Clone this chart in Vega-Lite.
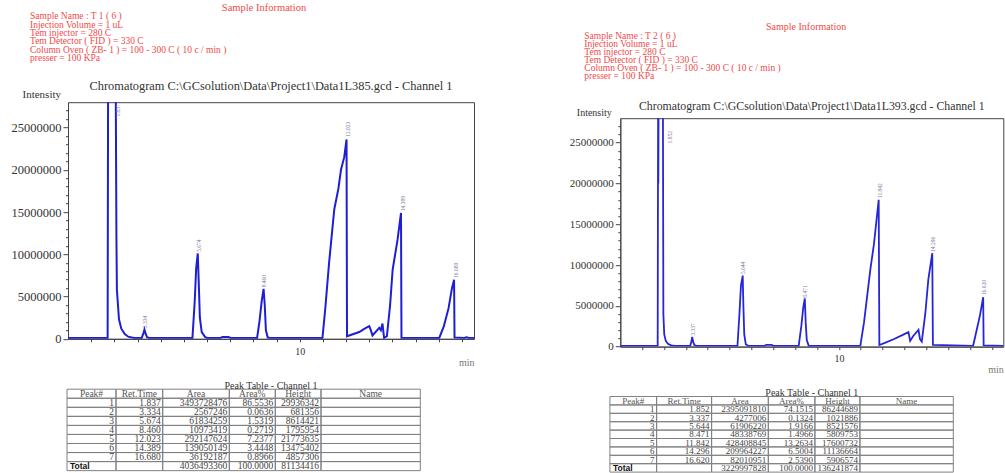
{
  "$schema": "https://vega.github.io/schema/vega-lite/v6.json",
  "autosize": {"type": "pad"},
  "padding": {"left": 10, "top": 3, "right": 0, "bottom": 0},
  "background": "white",
  "config": {
    "font": "Liberation Serif",
    "view": {"stroke": null},
    "axis": {"grid": false, "domainColor": "#444", "tickColor": "#444", "labelColor": "#333", "titleColor": "#333", "labelFont": "Liberation Serif", "titleFont": "Liberation Serif", "titleFontWeight": "normal"},
    "title": {"font": "Liberation Serif", "fontWeight": "normal", "color": "#333"},
    "text": {"font": "Liberation Serif"}
  },
  "datasets": {
    "colsL": [
      {"key": "pk", "x0": -1, "x1": 48, "xm": 23.5},
      {"key": "rt", "x0": 48, "x1": 94.7, "xm": 71.35},
      {"key": "area", "x0": 94.7, "x1": 161.3, "xm": 128},
      {"key": "pct", "x0": 161.3, "x1": 207.3, "xm": 184.3},
      {"key": "ht", "x0": 207.3, "x1": 253, "xm": 230.15},
      {"key": "nm", "x0": 253, "x1": 352.3, "xm": 302.65}
    ],
    "colsR": [
      {"key": "pk", "x0": -10.4, "x1": 36.3, "xm": 12.95},
      {"key": "rt", "x0": 36.3, "x1": 91.3, "xm": 63.8},
      {"key": "area", "x0": 91.3, "x1": 148, "xm": 119.65},
      {"key": "pct", "x0": 148, "x1": 194.6, "xm": 171.3},
      {"key": "ht", "x0": 194.6, "x1": 239.6, "xm": 217.1},
      {"key": "nm", "x0": 239.6, "x1": 333, "xm": 286.3}
    ]
  },
  "bounds": "full",
  "spacing": 56.3,
  "hconcat": [
    {
      "bounds": "flush",
      "center": true,
      "spacing": 40.2,
      "vconcat": [
        {
          "width": 482, "height": 50,
          "title": {"text": "Sample Information", "fontSize": 10.5, "color": "#f04a4a", "anchor": "middle", "frame": "group", "baseline": "middle", "offset": -7.8, "dx": -7},
          "data": {"values": [
            {"i": 1, "s": "Sample Name : T 1 ( 6 )"},
            {"i": 2, "s": "Injection Volume = 1 uL"},
            {"i": 3, "s": "Tem injector = 280 C"},
            {"i": 4, "s": "Tem Detector ( FID ) = 330 C"},
            {"i": 5, "s": "Column Oven ( ZB- 1 )  = 100 - 300 C ( 10 c / min )"},
            {"i": 6, "s": "presser = 100 KPa"}
          ]},
          "mark": {"type": "text", "align": "left", "baseline": "middle", "fontSize": 9.5, "color": "#f04a4a"},
          "encoding": {
            "y": {"field": "i", "type": "ordinal", "scale": {"type": "point", "padding": 0.5}, "axis": null},
            "x": {"datum": 0, "type": "quantitative", "scale": {"domain": [0, 1]}, "axis": null},
            "text": {"field": "s"}
          }
        },
        {
          "width": 406, "height": 236.6,
          "view": {"stroke": "#444", "strokeWidth": 1},
          "title": {"text": "Chromatogram C:\\GCsolution\\Data\\Project1\\Data1L385.gcd - Channel 1", "fontSize": 12.4, "anchor": "middle", "frame": "group", "baseline": "middle", "offset": -10.5, "color": "#333"},
          "resolve": {"axis": {"x": "independent", "y": "independent"}},
          "layer": [
            {
              "data": {"values": [
                {"t": 0, "v": 100000}, {"t": 1.71, "v": 100000}, {"t": 1.73, "v": 29900000}, {"t": 2.06, "v": 29900000}, {"t": 2.09, "v": 12000000}, {"t": 2.11, "v": 5800000}, {"t": 2.2, "v": 2300000}, {"t": 2.3, "v": 1200000}, {"t": 2.45, "v": 550000}, {"t": 2.6, "v": 250000}, {"t": 2.85, "v": 100000},
                {"t": 3.18, "v": 100000}, {"t": 3.26, "v": 700000}, {"t": 3.3, "v": 1100000}, {"t": 3.35, "v": 600000}, {"t": 3.41, "v": 200000}, {"t": 3.5, "v": 100000},
                {"t": 5.37, "v": 100000}, {"t": 5.47, "v": 4500000}, {"t": 5.53, "v": 8300000}, {"t": 5.6, "v": 10100000}, {"t": 5.65, "v": 6000000}, {"t": 5.69, "v": 2500000}, {"t": 5.77, "v": 800000}, {"t": 5.92, "v": 200000}, {"t": 6.02, "v": 100000},
                {"t": 6.58, "v": 100000}, {"t": 6.67, "v": 220000}, {"t": 6.92, "v": 220000}, {"t": 7.02, "v": 100000},
                {"t": 8.16, "v": 100000}, {"t": 8.26, "v": 2000000}, {"t": 8.36, "v": 4500000}, {"t": 8.44, "v": 5900000}, {"t": 8.49, "v": 4000000}, {"t": 8.54, "v": 1000000}, {"t": 8.62, "v": 150000}, {"t": 8.72, "v": 100000},
                {"t": 10.98, "v": 100000}, {"t": 11.1, "v": 3500000}, {"t": 11.27, "v": 9100000}, {"t": 11.49, "v": 15300000}, {"t": 11.67, "v": 17800000}, {"t": 11.78, "v": 20000000}, {"t": 11.92, "v": 21500000}, {"t": 12.02, "v": 23600000}, {"t": 12.04, "v": 300000},
                {"t": 12.35, "v": 600000}, {"t": 12.57, "v": 800000}, {"t": 12.8, "v": 1200000}, {"t": 13.0, "v": 1500000}, {"t": 13.07, "v": 1000000}, {"t": 13.14, "v": 400000}, {"t": 13.43, "v": 1300000}, {"t": 13.5, "v": 1000000}, {"t": 13.57, "v": 1800000}, {"t": 13.64, "v": 100000}, {"t": 13.76, "v": 300000},
                {"t": 13.9, "v": 4000000}, {"t": 14.01, "v": 8200000}, {"t": 14.22, "v": 11700000}, {"t": 14.37, "v": 14900000}, {"t": 14.39, "v": 100000},
                {"t": 16.02, "v": 100000}, {"t": 16.22, "v": 1500000}, {"t": 16.42, "v": 3600000}, {"t": 16.57, "v": 6000000}, {"t": 16.66, "v": 7000000}, {"t": 16.68, "v": 150000},
                {"t": 17.1, "v": 100000}, {"t": 17.2, "v": 180000}, {"t": 17.3, "v": 100000}, {"t": 17.52, "v": 100000}
              ]},
              "mark": {"type": "line", "color": "#1e1ed6", "strokeWidth": 2, "clip": true},
              "encoding": {
                "x": {"field": "t", "type": "quantitative", "scale": {"domain": [0, 17.52], "nice": false, "zero": false},
                  "axis": {"orient": "bottom", "values": [10], "tickSize": 3, "labelPadding": 5, "labelFontSize": 10, "labelFlush": false, "labelOverlap": false, "title": "min", "titleAnchor": "end", "titleFontSize": 10, "titleColor": "#777", "titlePadding": 1}},
                "y": {"field": "v", "type": "quantitative", "scale": {"domain": [0, 28000000], "nice": false, "zero": true},
                  "axis": {"orient": "left", "values": [0, 5000000, 10000000, 15000000, 20000000, 25000000], "format": "d", "tickSize": 5, "labelPadding": 2, "labelFontSize": 12.5, "labelOverlap": false,
                    "title": "Intensity", "titleAngle": 0, "titleAlign": "left", "titleBaseline": "middle", "titleX": -46, "titleY": -8, "titleFontSize": 11}}
              }
            },
            {
              "data": {"values": [
                {"label": "1.837", "t": 2.14, "v": 26300000},
                {"label": "3.334", "t": 3.32, "v": 1250000},
                {"label": "5.674", "t": 5.66, "v": 10300000},
                {"label": "8.460", "t": 8.47, "v": 6100000},
                {"label": "12.023", "t": 12.07, "v": 23900000},
                {"label": "14.389", "t": 14.44, "v": 15100000},
                {"label": "16.680", "t": 16.74, "v": 7200000}
              ]},
              "mark": {"type": "text", "angle": 270, "align": "left", "baseline": "middle", "fontSize": 5.5, "color": "#7c7c9c"},
              "encoding": {
                "x": {"field": "t", "type": "quantitative",
                  "axis": {"orient": "bottom", "values": [1,2,3,4,5,6,7,8,9,11,12,13,14,15,16,17], "tickSize": 3, "labels": false, "domain": false, "title": null, "grid": false}},
                "y": {"field": "v", "type": "quantitative",
                  "axis": {"orient": "left", "values": [1000000,2000000,3000000,4000000,6000000,7000000,8000000,9000000,11000000,12000000,13000000,14000000,16000000,17000000,18000000,19000000,21000000,22000000,23000000,24000000,26000000,27000000], "tickSize": 2.5, "labels": false, "domain": false, "title": null, "grid": false}},
                "text": {"field": "label"}
              }
            }
          ]
        },
        {
          "width": 406, "height": 91.25,
          "title": {"text": "Peak Table - Channel 1", "fontSize": 10, "anchor": "middle", "frame": "group", "baseline": "middle", "offset": -16.5, "color": "#333"},
          "data": {"values": [
            {"r": "H", "pk": "Peak#", "rt": "Ret.Time", "area": "Area", "pct": "Area%", "ht": "Height", "nm": "Name"},
            {"r": "1", "pk": "1", "rt": "1.837", "area": "3493728476", "pct": "86.5536", "ht": "29936342", "nm": ""},
            {"r": "2", "pk": "2", "rt": "3.334", "area": "2567246", "pct": "0.0636", "ht": "681356", "nm": ""},
            {"r": "3", "pk": "3", "rt": "5.674", "area": "61834259", "pct": "1.5319", "ht": "8614421", "nm": ""},
            {"r": "4", "pk": "4", "rt": "8.460", "area": "10973419", "pct": "0.2719", "ht": "1795954", "nm": ""},
            {"r": "5", "pk": "5", "rt": "12.023", "area": "292147624", "pct": "7.2377", "ht": "21773635", "nm": ""},
            {"r": "6", "pk": "6", "rt": "14.389", "area": "139050149", "pct": "3.4448", "ht": "13475402", "nm": ""},
            {"r": "7", "pk": "7", "rt": "16.680", "area": "36192187", "pct": "0.8966", "ht": "4857306", "nm": ""},
            {"r": "T", "pk": "Total", "rt": "", "area": "4036493360", "pct": "100.0000", "ht": "81134416", "nm": ""}
          ]},
          "transform": [
            {"fold": ["pk", "rt", "area", "pct", "ht", "nm"], "as": ["key", "val"]},
            {"lookup": "key", "from": {"data": {"name": "colsL"}, "key": "key", "fields": ["x0", "x1", "xm"]}}
          ],
          "encoding": {
            "y": {"field": "r", "type": "nominal", "scale": {"type": "band", "domain": ["H","1","2","3","4","5","6","7","T"], "paddingInner": 0, "paddingOuter": 0.5414, "align": 1}, "axis": null}
          },
          "layer": [
            {"mark": {"type": "rect", "filled": false, "color": "#808080", "strokeWidth": 1},
             "encoding": {"x": {"field": "x0", "type": "quantitative", "scale": {"domain": [0, 406], "nice": false, "zero": false}, "axis": null}, "x2": {"field": "x1"}}},
            {"transform": [{"filter": "datum.r == 'H'"}],
             "mark": {"type": "text", "align": "center", "baseline": "middle", "fontSize": 9.5, "color": "#555"},
             "encoding": {"x": {"field": "xm", "type": "quantitative", "scale": {"domain": [0, 406], "nice": false, "zero": false}, "axis": null}, "text": {"field": "val"}}},
            {"transform": [{"filter": "datum.r != 'H' && !(datum.r == 'T' && datum.key == 'pk')"}],
             "mark": {"type": "text", "align": "right", "baseline": "middle", "fontSize": 9.5, "color": "#444", "dx": -2},
             "encoding": {"x": {"field": "x1", "type": "quantitative", "scale": {"domain": [0, 406], "nice": false, "zero": false}, "axis": null}, "text": {"field": "val"}}},
            {"transform": [{"filter": "datum.r == 'T' && datum.key == 'pk'"}],
             "mark": {"type": "text", "align": "left", "baseline": "middle", "fontSize": 8.5, "font": "Liberation Sans", "fontWeight": "bold", "color": "#111", "dx": 3},
             "encoding": {"x": {"field": "x0", "type": "quantitative", "scale": {"domain": [0, 406], "nice": false, "zero": false}, "axis": null}, "text": {"field": "val"}}}
          ]
        }
      ]
    },
    {
      "bounds": "flush",
      "center": true,
      "spacing": 34.2,
      "vconcat": [
        {
          "width": 455, "height": 71.6,
          "title": {"text": "Sample Information", "fontSize": 10, "color": "#f04a4a", "anchor": "middle", "frame": "group", "baseline": "middle", "offset": -25.2, "dx": -5.7},
          "data": {"values": [
            {"i": 1, "s": "Sample Name : T 2 ( 6 )"},
            {"i": 2, "s": "Injection Volume = 1 uL"},
            {"i": 3, "s": "Tem injector = 280 C"},
            {"i": 4, "s": "Tem Detector ( FID ) = 330 C"},
            {"i": 5, "s": "Column Oven ( ZB- 1 )  = 100 - 300 C ( 10 c / min )"},
            {"i": 6, "s": "presser = 100 KPa"}
          ]},
          "mark": {"type": "text", "align": "left", "baseline": "middle", "fontSize": 9.5, "color": "#f04a4a"},
          "encoding": {
            "y": {"field": "i", "type": "ordinal", "scale": {"type": "point", "domain": [-1, 0, 1, 2, 3, 4, 5, 6], "padding": 0.866}, "axis": null},
            "x": {"datum": 0, "type": "quantitative", "scale": {"domain": [0, 1]}, "axis": null},
            "text": {"field": "s"}
          }
        },
        {
          "width": 383, "height": 228.4,
          "view": {"stroke": "#444", "strokeWidth": 1},
          "title": {"text": "Chromatogram C:\\GCsolution\\Data\\Project1\\Data1L393.gcd - Channel 1", "fontSize": 11.8, "anchor": "middle", "frame": "group", "baseline": "middle", "offset": -9.7, "color": "#333"},
          "resolve": {"axis": {"x": "independent", "y": "independent"}},
          "layer": [
            {
              "data": {"values": [
                {"t": 0, "v": 100000}, {"t": 1.71, "v": 100000}, {"t": 1.73, "v": 29000000}, {"t": 1.74, "v": 20000000}, {"t": 1.75, "v": 29000000}, {"t": 1.95, "v": 29000000}, {"t": 1.97, "v": 4000000}, {"t": 2.01, "v": 1500000}, {"t": 2.08, "v": 700000}, {"t": 2.18, "v": 350000}, {"t": 2.33, "v": 150000}, {"t": 2.5, "v": 100000},
                {"t": 3.2, "v": 100000}, {"t": 3.25, "v": 600000}, {"t": 3.29, "v": 1200000}, {"t": 3.33, "v": 600000}, {"t": 3.39, "v": 200000}, {"t": 3.48, "v": 100000},
                {"t": 5.36, "v": 100000}, {"t": 5.45, "v": 4000000}, {"t": 5.52, "v": 7500000}, {"t": 5.6, "v": 8700000}, {"t": 5.63, "v": 5000000}, {"t": 5.67, "v": 1500000}, {"t": 5.74, "v": 300000}, {"t": 5.85, "v": 100000},
                {"t": 6.6, "v": 100000}, {"t": 6.68, "v": 220000}, {"t": 6.92, "v": 220000}, {"t": 7.0, "v": 100000},
                {"t": 8.16, "v": 100000}, {"t": 8.28, "v": 2500000}, {"t": 8.37, "v": 4800000}, {"t": 8.44, "v": 5900000}, {"t": 8.48, "v": 3000000}, {"t": 8.53, "v": 800000}, {"t": 8.62, "v": 100000},
                {"t": 10.98, "v": 100000}, {"t": 11.15, "v": 3000000}, {"t": 11.44, "v": 9500000}, {"t": 11.6, "v": 12500000}, {"t": 11.82, "v": 18000000}, {"t": 11.85, "v": 200000},
                {"t": 12.1, "v": 450000}, {"t": 12.5, "v": 900000}, {"t": 12.9, "v": 1400000}, {"t": 13.18, "v": 1770000}, {"t": 13.26, "v": 700000}, {"t": 13.4, "v": 1300000}, {"t": 13.64, "v": 2050000}, {"t": 13.71, "v": 900000}, {"t": 13.79, "v": 600000},
                {"t": 13.95, "v": 4000000}, {"t": 14.09, "v": 8200000}, {"t": 14.27, "v": 11450000}, {"t": 14.3, "v": 200000},
                {"t": 16.14, "v": 100000}, {"t": 16.3, "v": 2000000}, {"t": 16.45, "v": 3800000}, {"t": 16.6, "v": 6060000}, {"t": 16.62, "v": 150000}, {"t": 17.52, "v": 100000}
              ]},
              "mark": {"type": "line", "color": "#2626d8", "strokeWidth": 1.8, "clip": true},
              "encoding": {
                "x": {"field": "t", "type": "quantitative", "scale": {"domain": [0, 17.52], "nice": false, "zero": false},
                  "axis": {"orient": "bottom", "values": [10], "tickSize": 3, "labelPadding": 4, "labelFontSize": 10, "labelFlush": false, "labelOverlap": false, "title": "min", "titleAnchor": "end", "titleFontSize": 10, "titleColor": "#777", "titlePadding": 1}},
                "y": {"field": "v", "type": "quantitative", "scale": {"domain": [0, 28000000], "nice": false, "zero": true},
                  "axis": {"orient": "left", "values": [0, 5000000, 10000000, 15000000, 20000000, 25000000], "format": "d", "tickSize": 5, "labelPadding": 2, "labelFontSize": 11, "labelOverlap": false,
                    "title": "Intensity", "titleAngle": 0, "titleAlign": "left", "titleBaseline": "middle", "titleX": -44, "titleY": -5.6, "titleFontSize": 10}}
              }
            },
            {
              "data": {"values": [
                {"label": "1.852", "t": 2.26, "v": 24900000},
                {"label": "3.337", "t": 3.32, "v": 1350000},
                {"label": "5.644", "t": 5.62, "v": 8900000},
                {"label": "8.471", "t": 8.47, "v": 6000000},
                {"label": "11.842", "t": 11.86, "v": 18200000},
                {"label": "14.296", "t": 14.29, "v": 11600000},
                {"label": "16.620", "t": 16.64, "v": 6300000}
              ]},
              "mark": {"type": "text", "angle": 270, "align": "left", "baseline": "middle", "fontSize": 5.5, "color": "#7c7c9c"},
              "encoding": {
                "x": {"field": "t", "type": "quantitative",
                  "axis": {"orient": "bottom", "values": [1,2,3,4,5,6,7,8,9,11,12,13,14,15,16,17], "tickSize": 3, "labels": false, "domain": false, "title": null, "grid": false}},
                "y": {"field": "v", "type": "quantitative",
                  "axis": {"orient": "left", "values": [1000000,2000000,3000000,4000000,6000000,7000000,8000000,9000000,11000000,12000000,13000000,14000000,16000000,17000000,18000000,19000000,21000000,22000000,23000000,24000000,26000000,27000000], "tickSize": 2.5, "labels": false, "domain": false, "title": null, "grid": false}},
                "text": {"field": "label"}
              }
            }
          ]
        },
        {
          "width": 383, "height": 90.7,
          "title": {"text": "Peak Table - Channel 1", "fontSize": 10, "anchor": "middle", "frame": "group", "baseline": "middle", "offset": -21.1, "color": "#333"},
          "data": {"values": [
            {"r": "H", "pk": "Peak#", "rt": "Ret.Time", "area": "Area", "pct": "Area%", "ht": "Height", "nm": "Name"},
            {"r": "1", "pk": "1", "rt": "1.852", "area": "2395091810", "pct": "74.1515", "ht": "86244689", "nm": ""},
            {"r": "2", "pk": "2", "rt": "3.337", "area": "4277006", "pct": "0.1324", "ht": "1021886", "nm": ""},
            {"r": "3", "pk": "3", "rt": "5.644", "area": "61906220", "pct": "1.9166", "ht": "8521576", "nm": ""},
            {"r": "4", "pk": "4", "rt": "8.471", "area": "48338769", "pct": "1.4966", "ht": "5809753", "nm": ""},
            {"r": "5", "pk": "5", "rt": "11.842", "area": "428408845", "pct": "13.2634", "ht": "17600732", "nm": ""},
            {"r": "6", "pk": "6", "rt": "14.296", "area": "209964227", "pct": "6.5004", "ht": "11136664", "nm": ""},
            {"r": "7", "pk": "7", "rt": "16.620", "area": "82010951", "pct": "2.5390", "ht": "5906574", "nm": ""},
            {"r": "T", "pk": "Total", "rt": "", "area": "3229997828", "pct": "100.0000", "ht": "136241874", "nm": ""}
          ]},
          "transform": [
            {"fold": ["pk", "rt", "area", "pct", "ht", "nm"], "as": ["key", "val"]},
            {"lookup": "key", "from": {"data": {"name": "colsR"}, "key": "key", "fields": ["x0", "x1", "xm"]}}
          ],
          "encoding": {
            "y": {"field": "r", "type": "nominal", "scale": {"type": "band", "domain": ["H","1","2","3","4","5","6","7","T"], "paddingInner": 0, "paddingOuter": 0.9, "align": 1}, "axis": null}
          },
          "layer": [
            {"mark": {"type": "rect", "filled": false, "color": "#808080", "strokeWidth": 1},
             "encoding": {"x": {"field": "x0", "type": "quantitative", "scale": {"domain": [0, 383], "nice": false, "zero": false}, "axis": null}, "x2": {"field": "x1"}}},
            {"transform": [{"filter": "datum.r == 'H'"}],
             "mark": {"type": "text", "align": "center", "baseline": "middle", "fontSize": 9, "color": "#555"},
             "encoding": {"x": {"field": "xm", "type": "quantitative", "scale": {"domain": [0, 383], "nice": false, "zero": false}, "axis": null}, "text": {"field": "val"}}},
            {"transform": [{"filter": "datum.r != 'H' && !(datum.r == 'T' && datum.key == 'pk')"}],
             "mark": {"type": "text", "align": "right", "baseline": "middle", "fontSize": 9, "color": "#444", "dx": -2},
             "encoding": {"x": {"field": "x1", "type": "quantitative", "scale": {"domain": [0, 383], "nice": false, "zero": false}, "axis": null}, "text": {"field": "val"}}},
            {"transform": [{"filter": "datum.r == 'T' && datum.key == 'pk'"}],
             "mark": {"type": "text", "align": "left", "baseline": "middle", "fontSize": 8.5, "font": "Liberation Sans", "fontWeight": "bold", "color": "#111", "dx": 3},
             "encoding": {"x": {"field": "x0", "type": "quantitative", "scale": {"domain": [0, 383], "nice": false, "zero": false}, "axis": null}, "text": {"field": "val"}}}
          ]
        }
      ]
    }
  ]
}
